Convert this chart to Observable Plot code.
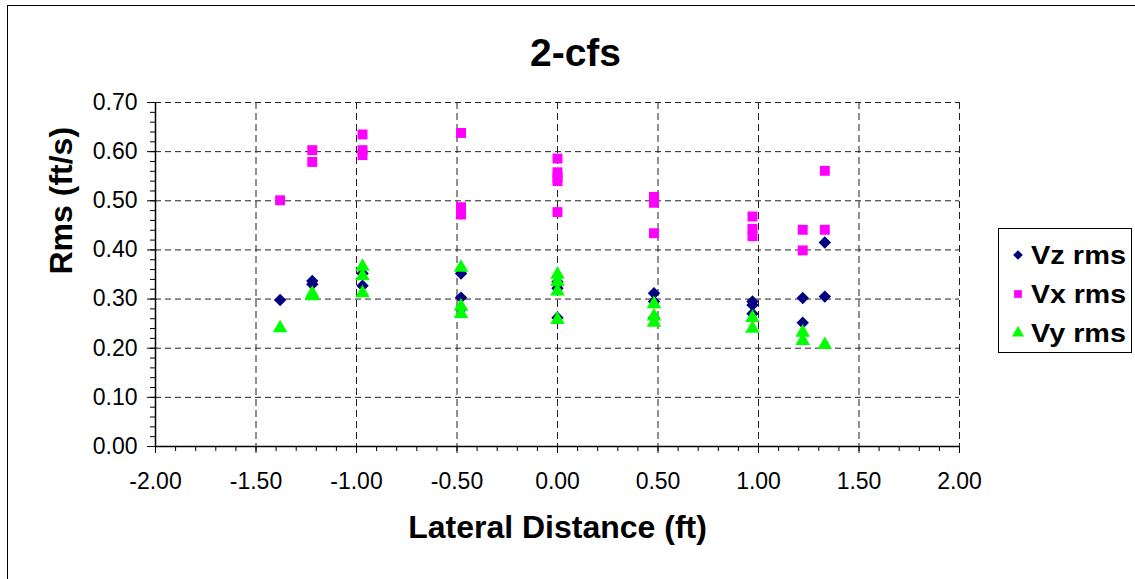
<!DOCTYPE html>
<html>
<head>
<meta charset="utf-8">
<script src="https://cdn.jsdelivr.net/npm/d3@7"></script>
<script src="https://cdn.jsdelivr.net/npm/@observablehq/plot@0.6"></script>
<style>
  html, body { margin: 0; padding: 0; background: #fff; }
  #wrap { position: relative; width: 1135px; height: 579px; overflow: hidden; font-family: "Liberation Sans", Arial, sans-serif; }
  #border { position: absolute; left: 7px; top: 5px; width: 1200px; height: 700px; border: 1.5px solid #000; box-sizing: border-box; }
  #chart { position: absolute; left: 0; top: 0; }
  #legend { position: absolute; left: 998px; top: 228px; width: 134px; height: 125px; border: 1px solid #000; box-sizing: border-box; background: #fff; }
</style>
</head>
<body>
<div id="wrap">
  <div id="border"></div>
  <div id="chart"></div>
  <div id="legend"></div>
</div>
<script>
// Lateral stations (ft)
const lateral = [-1.38, -1.22, -0.97, -0.48, 0.00, 0.48, 0.97, 1.22, 1.33];
// rms values (ft/s) at each station
const vzRms = [[0.298], [0.337, 0.330], [0.352, 0.327], [0.352, 0.303, 0.280], [0.335, 0.322, 0.262], [0.312, 0.295, 0.262], [0.295, 0.288, 0.270], [0.302, 0.252], [0.415, 0.305]];
const vxRms = [[0.501], [0.603, 0.579], [0.635, 0.603, 0.593], [0.638, 0.487, 0.472], [0.586, 0.558, 0.548, 0.540, 0.477], [0.508, 0.496, 0.434], [0.468, 0.443, 0.428], [0.441, 0.399], [0.561, 0.441]];
const vyRms = [[0.241], [0.311, 0.306], [0.366, 0.347, 0.312], [0.364, 0.285, 0.270], [0.350, 0.335, 0.316, 0.258], [0.290, 0.265, 0.252], [0.262, 0.240], [0.232, 0.215], [0.207]];
const seriesNames = ["Vz rms", "Vx rms", "Vy rms"];
const seriesColors = ["#000080", "#FF00FF", "#00FF00"];
const xTicks = [-2.0, -1.5, -1.0, -0.5, 0.0, 0.5, 1.0, 1.5, 2.0];
const yTicks = [0.0, 0.1, 0.2, 0.3, 0.4, 0.5, 0.6, 0.7];
const xMinor = d3.range(-20, 21).map(d => d / 10);
const yMinor = d3.range(0, 36).map(d => d / 50);
const title = "2-cfs";
const xTitle = "Lateral Distance (ft)";
const yTitle = "Rms (ft/s)";

function table(groups) {
  return groups.flatMap((vals, i) => vals.map(v => ({x: lateral[i], y: v})));
}
const vz = table(vzRms), vx = table(vxRms), vy = table(vyRms);

const font = "Liberation Sans, Arial, sans-serif";
const gridColor = "#222";

const chart = Plot.plot({
  width: 1135,
  height: 579,
  marginLeft: 155,
  marginRight: 176,
  marginTop: 102,
  marginBottom: 133,
  style: {fontFamily: font, background: "transparent", color: "#000"},
  x: {domain: [-2, 2]},
  y: {domain: [0, 0.7]},
  marks: [
    Plot.gridY(yTicks.filter(d => d > 0), {stroke: gridColor, strokeOpacity: 1, strokeDasharray: "6,4", strokeWidth: 1}),
    Plot.gridX(xTicks.filter(d => d > -2), {stroke: gridColor, strokeOpacity: 1, strokeDasharray: "7,4", strokeWidth: 1}),
    Plot.axisY(yMinor, {tickSize: 5, tickFormat: () => "", stroke: "#000", label: null}),
    Plot.axisY(yTicks, {tickSize: 8, tickPadding: 10, fontSize: 23, tickFormat: d => d.toFixed(2), stroke: "#000", label: null}),
    Plot.axisX(xMinor, {tickSize: 5, tickFormat: () => "", stroke: "#000", label: null}),
    Plot.axisX(xTicks, {tickSize: 7, tickPadding: 19, fontSize: 23, tickFormat: d => d.toFixed(2), stroke: "#000", label: null}),
    Plot.ruleX([-2], {stroke: "#000", strokeWidth: 1.5}),
    Plot.ruleY([0], {stroke: "#000", strokeWidth: 1.5}),
    Plot.dot(vz, {x: "x", y: "y", symbol: "diamond2", r: 5.6, fill: seriesColors[0], stroke: "none"}),
    Plot.dot(vx, {x: "x", y: "y", symbol: "square", r: 5.6, fill: seriesColors[1], stroke: "none"}),
    Plot.dot(vy, {x: "x", y: "y", symbol: "triangle", r: 5.4, fill: seriesColors[2], stroke: "none"}),
    Plot.text([title], {frameAnchor: "top", dx: 18, dy: -49, fontSize: 39, fontWeight: "bold", lineAnchor: "middle", fill: "#000"}),
    Plot.text([xTitle], {frameAnchor: "bottom", dy: 81, fontSize: 32, fontWeight: "bold", lineAnchor: "middle", fill: "#000"}),
    Plot.text([yTitle], {frameAnchor: "left", dx: -94, rotate: -90, fontSize: 32, fontWeight: "bold", lineAnchor: "middle", fill: "#000"})
  ]
});
document.getElementById("chart").appendChild(chart);

// Legend
const symbolTypes = [d3.symbolDiamond2, d3.symbolSquare, d3.symbolTriangle];
const symbolSizes = [60, 60, 64];
const leg = d3.select("#legend").append("svg").attr("width", 132).attr("height", 123);
seriesNames.forEach((name, i) => {
  const g = leg.append("g").attr("transform", `translate(0, ${i * 39 + 26})`);
  g.append("path").attr("d", d3.symbol(symbolTypes[i], symbolSizes[i])()).attr("transform", "translate(19,0)").attr("fill", seriesColors[i]);
  g.append("text").attr("x", 32).attr("y", 0).attr("dy", "0.36em")
    .attr("font-family", font).attr("font-weight", "bold").attr("font-size", 25)
    .attr("textLength", 95).attr("lengthAdjust", "spacingAndGlyphs")
    .text(name);
});
</script>
</body>
</html>
